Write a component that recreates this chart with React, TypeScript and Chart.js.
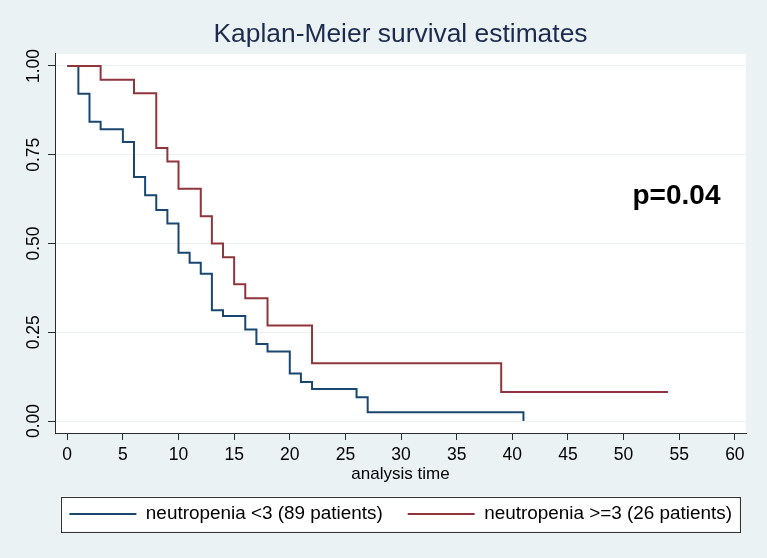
import React, { useEffect, useRef } from "react";
import { Chart, registerables } from "chart.js";

Chart.register(...registerables);

// ---------- data ----------
const chartTitle = "Kaplan-Meier survival estimates";
const xAxisTitle = "analysis time";
const xTicks = [0, 5, 10, 15, 20, 25, 30, 35, 40, 45, 50, 55, 60];
const yTicks = [0, 0.25, 0.5, 0.75, 1];
const yTickLabels = ["0.00", "0.25", "0.50", "0.75", "1.00"];
const groupLabels = ["neutropenia <3 (89 patients)", "neutropenia >=3 (26 patients)"];

const lowTimes = [0, 1, 2, 3, 5, 6, 7, 8, 9, 10, 11, 12, 13, 14, 16, 17, 18, 20, 21, 22, 26, 27, 41];
const lowSurvival = [1, 0.922, 0.843, 0.822, 0.786, 0.687, 0.636, 0.594, 0.556, 0.474, 0.446, 0.415, 0.312, 0.296, 0.258, 0.217, 0.196, 0.134, 0.11, 0.09, 0.067, 0.0245, 0];

const highTimes = [0, 3, 6, 8, 9, 10, 12, 13, 14, 15, 16, 18, 22, 39, 54];
const highSurvival = [1, 0.9615, 0.923, 0.769, 0.731, 0.654, 0.577, 0.5, 0.4615, 0.385, 0.346, 0.269, 0.163, 0.0817, 0.0817];

const annotationText = "p=0.04";
const annotationX = 50.8;
const annotationY = 0.61;

// ---------- styles ----------
const FONT = '"Liberation Sans", Arial, Helvetica, sans-serif';
const BG = "#eaf2f3";
const BLUE = "#1a476f";
const RED = "#90353b";
const AXIS = "#2b2b2b";
const LEGEND_PAD = 25;
const LEGEND_FONT = 18.9;

const bgPlugin = {
  id: "stataBackground",
  beforeDraw(chart: any) {
    const { ctx, chartArea, width, height } = chart;
    ctx.save();
    ctx.fillStyle = BG;
    ctx.fillRect(0, 0, width, height);
    ctx.fillStyle = "#ffffff";
    ctx.fillRect(chartArea.left, chartArea.top, chartArea.right - chartArea.left, chartArea.bottom - chartArea.top);
    const lg = chart.legend;
    if (lg) {
      const cy = lg.top + LEGEND_PAD + LEGEND_FONT / 2;
      const x0 = chartArea.left + 5.7;
      const w = chartArea.right - chartArea.left - 12.5;
      ctx.fillRect(x0, cy - 17.5, w, 35);
      ctx.strokeStyle = "#333333";
      ctx.lineWidth = 1;
      ctx.strokeRect(Math.round(x0) + 0.5, Math.round(cy - 17.5) + 0.5, Math.round(w), 35);
    }
    ctx.restore();
  },
};

const annotationPlugin = {
  id: "pValue",
  afterDatasetsDraw(chart: any) {
    const { ctx, scales } = chart;
    ctx.save();
    ctx.font = `bold 28px ${FONT}`;
    ctx.fillStyle = "#000000";
    ctx.textAlign = "left";
    ctx.textBaseline = "alphabetic";
    ctx.fillText(annotationText, scales.x.getPixelForValue(annotationX), scales.y.getPixelForValue(annotationY));
    ctx.restore();
  },
};

export default function App() {
  const canvasRef = useRef<HTMLCanvasElement | null>(null);

  useEffect(() => {
    if (!canvasRef.current) return;
    const chart = new Chart(canvasRef.current, {
      type: "line",
      data: {
        datasets: [
          {
            label: groupLabels[0],
            data: lowTimes.map((t, i) => ({ x: t, y: lowSurvival[i] })),
            borderColor: BLUE,
            backgroundColor: BLUE,
            borderWidth: 2,
            pointRadius: 0,
            stepped: true,
            fill: false,
            order: 2,
          },
          {
            label: groupLabels[1],
            data: highTimes.map((t, i) => ({ x: t, y: highSurvival[i] })),
            borderColor: RED,
            backgroundColor: RED,
            borderWidth: 2,
            pointRadius: 0,
            stepped: true,
            fill: false,
            order: 1,
          },
        ],
      },
      options: {
        animation: false,
        responsive: false,
        layout: { padding: { left: 0, right: 10, top: 0, bottom: 24.55 } },
        scales: {
          x: {
            type: "linear",
            min: -1.1,
            max: 61,
            afterBuildTicks: (s: any) => {
              s.ticks = xTicks.map((v) => ({ value: v }));
            },
            afterFit: (s: any) => {
              s.height = 46.55;
            },
            ticks: {
              autoSkip: false,
              maxRotation: 0,
              minRotation: 0,
              padding: 4.5,
              color: "#000",
              font: { family: FONT, size: 17.5 },
              callback: (v: any) => String(v),
            },
            grid: { drawOnChartArea: false, tickLength: 7, tickColor: AXIS, tickWidth: 1 },
            border: { display: true, color: AXIS, width: 1 },
            title: {
              display: true,
              text: xAxisTitle,
              color: "#000",
              font: { family: FONT, size: 17, lineHeight: 1 },
              padding: { top: 0, bottom: -2.95 },
            },
          },
          y: {
            type: "linear",
            position: "left",
            min: -0.0338,
            max: 1.0338,
            afterBuildTicks: (s: any) => {
              s.ticks = yTicks.map((v) => ({ value: v }));
            },
            afterFit: (s: any) => {
              s.width = 55;
            },
            ticks: {
              minRotation: 90,
              maxRotation: 90,
              crossAlign: "center",
              padding: -3,
              color: "#000",
              font: { family: FONT, size: 17.5 },
              callback: (_v: any, i: number) => yTickLabels[i],
            },
            grid: { color: BG, lineWidth: 1, tickLength: 7, tickColor: AXIS, tickWidth: 1 },
            border: { display: true, color: AXIS, width: 1 },
          },
          y2: {
            type: "linear",
            position: "right",
            display: true,
            grid: { display: false, drawTicks: false },
            ticks: { display: false },
            border: { display: false },
            afterFit: (s: any) => {
              s.width = 11;
            },
          },
        },
        plugins: {
          title: {
            display: true,
            text: chartTitle,
            fullSize: false,
            color: "#1c2a4e",
            font: { family: FONT, size: 26.4, weight: "normal" },
            padding: { top: 19.2, bottom: 3.1 },
          },
          legend: {
            display: true,
            position: "bottom",
            fullSize: true,
            align: "end",
            labels: {
              boxWidth: 67,
              boxHeight: 2,
              padding: LEGEND_PAD,
              color: "#000",
              font: { family: FONT, size: LEGEND_FONT },
              generateLabels: (c: any) =>
                c.data.datasets.map((ds: any, i: number) => ({
                  text: ds.label,
                  fillStyle: ds.borderColor,
                  strokeStyle: ds.borderColor,
                  lineWidth: 0,
                  hidden: false,
                  datasetIndex: i,
                })),
            },
          },
          tooltip: { enabled: false },
        },
      } as any,
      plugins: [bgPlugin, annotationPlugin],
    });
    return () => chart.destroy();
  }, []);

  return (
    <div style={{ position: "absolute", left: 0, top: 0, width: 767, height: 558, background: BG }}>
      <canvas ref={canvasRef} width={767} height={558} style={{ display: "block" }} />
    </div>
  );
}
